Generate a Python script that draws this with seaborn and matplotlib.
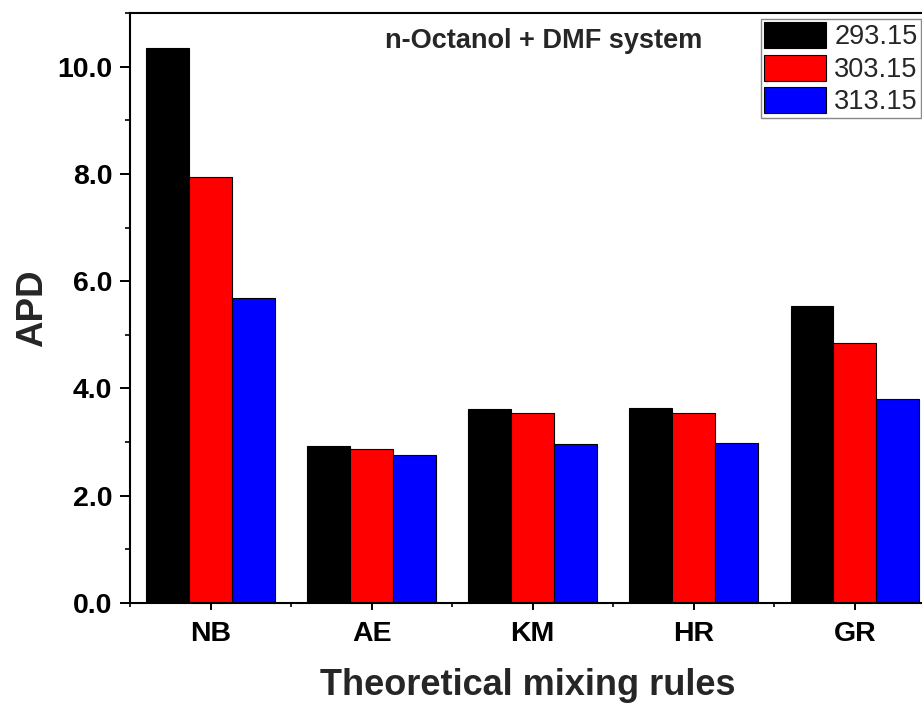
import matplotlib
matplotlib.use('Agg')
import matplotlib.pyplot as plt
import seaborn as sns
import pandas as pd
from matplotlib.ticker import MultipleLocator, FormatStrFormatter, FixedLocator

rules = ["NB", "AE", "KM", "HR", "GR"]
temperatures = ["293.15", "303.15", "313.15"]
apd_293 = [10.35, 2.92, 3.62, 3.63, 5.54]
apd_303 = [7.95, 2.87, 3.54, 3.54, 4.85]
apd_313 = [5.68, 2.76, 2.97, 2.98, 3.81]
colors = ["#000000", "#ff0000", "#0000ff"]

df = pd.DataFrame({
    "rule": rules * 3,
    "T": [t for t in temperatures for _ in rules],
    "APD": apd_293 + apd_303 + apd_313,
})

sns.set_theme(style="ticks")
plt.rcParams['font.family'] = ['Liberation Sans', 'DejaVu Sans']

W, H = 922, 706
fig = plt.figure(figsize=(W / 100, H / 100), dpi=100)
ax = fig.add_axes([130 / W, (H - 603) / H, 805.5 / W, 590 / H])

sns.barplot(data=df, x="rule", y="APD", hue="T", order=rules,
            hue_order=temperatures, palette=colors, saturation=1,
            edgecolor="black", linewidth=0.8, errorbar=None, ax=ax,
            width=0.8)

ax.set_xlim(-0.5, 4.5)
ax.set_ylim(0, 11)

for s in ax.spines.values():
    s.set_visible(True)
    s.set_linewidth(1.5)
    s.set_color("black")

ax.yaxis.set_major_locator(MultipleLocator(2))
ax.yaxis.set_minor_locator(MultipleLocator(1))
ax.yaxis.set_major_formatter(FormatStrFormatter('%.1f'))
ax.xaxis.set_minor_locator(FixedLocator([-0.5, 0.5, 1.5, 2.5, 3.5, 4.5]))

ax.tick_params(axis='y', which='major', direction='out', length=7.2, width=1.4,
               pad=5.5, labelsize=20.5, colors='black')
ax.tick_params(axis='y', which='minor', direction='out', length=3.6, width=1.4)
ax.tick_params(axis='x', which='major', direction='out', length=5, width=1.4,
               pad=8, labelsize=20.5, colors='black')
ax.tick_params(axis='x', which='minor', direction='out', length=3, width=1.4)
ax.tick_params(right=False, top=False, which='both')
for lab in ax.get_xticklabels() + ax.get_yticklabels():
    lab.set_fontweight('bold')

ax.set_xlabel("Theoretical mixing rules", fontsize=26, fontweight='bold')
ax.set_ylabel("APD", fontsize=26.5, fontweight='bold')
ax.xaxis.set_label_coords(0.494, (603 - 668) / 590)
ax.yaxis.set_label_coords((50 - 130) / 805.5, 0.5)

handles, labels = ax.get_legend_handles_labels()
ax.legend(handles, labels, loc='upper left',
          bbox_to_anchor=(761 / W, 1 - 19 / H), bbox_transform=fig.transFigure,
          frameon=True, fancybox=False, edgecolor='#888888', framealpha=1,
          fontsize=19.5, handlelength=2.29, handleheight=1.1, labelspacing=0.15,
          handletextpad=0.3, borderpad=0.12, borderaxespad=0, title=None)
ax.get_legend().get_frame().set_linewidth(1.0)

fig.text(543.5 / W, 1 - 41 / H, "n-Octanol + DMF system", ha='center', va='center',
         fontsize=19.5, fontweight='bold')

fig.savefig("out.png", dpi=100)
